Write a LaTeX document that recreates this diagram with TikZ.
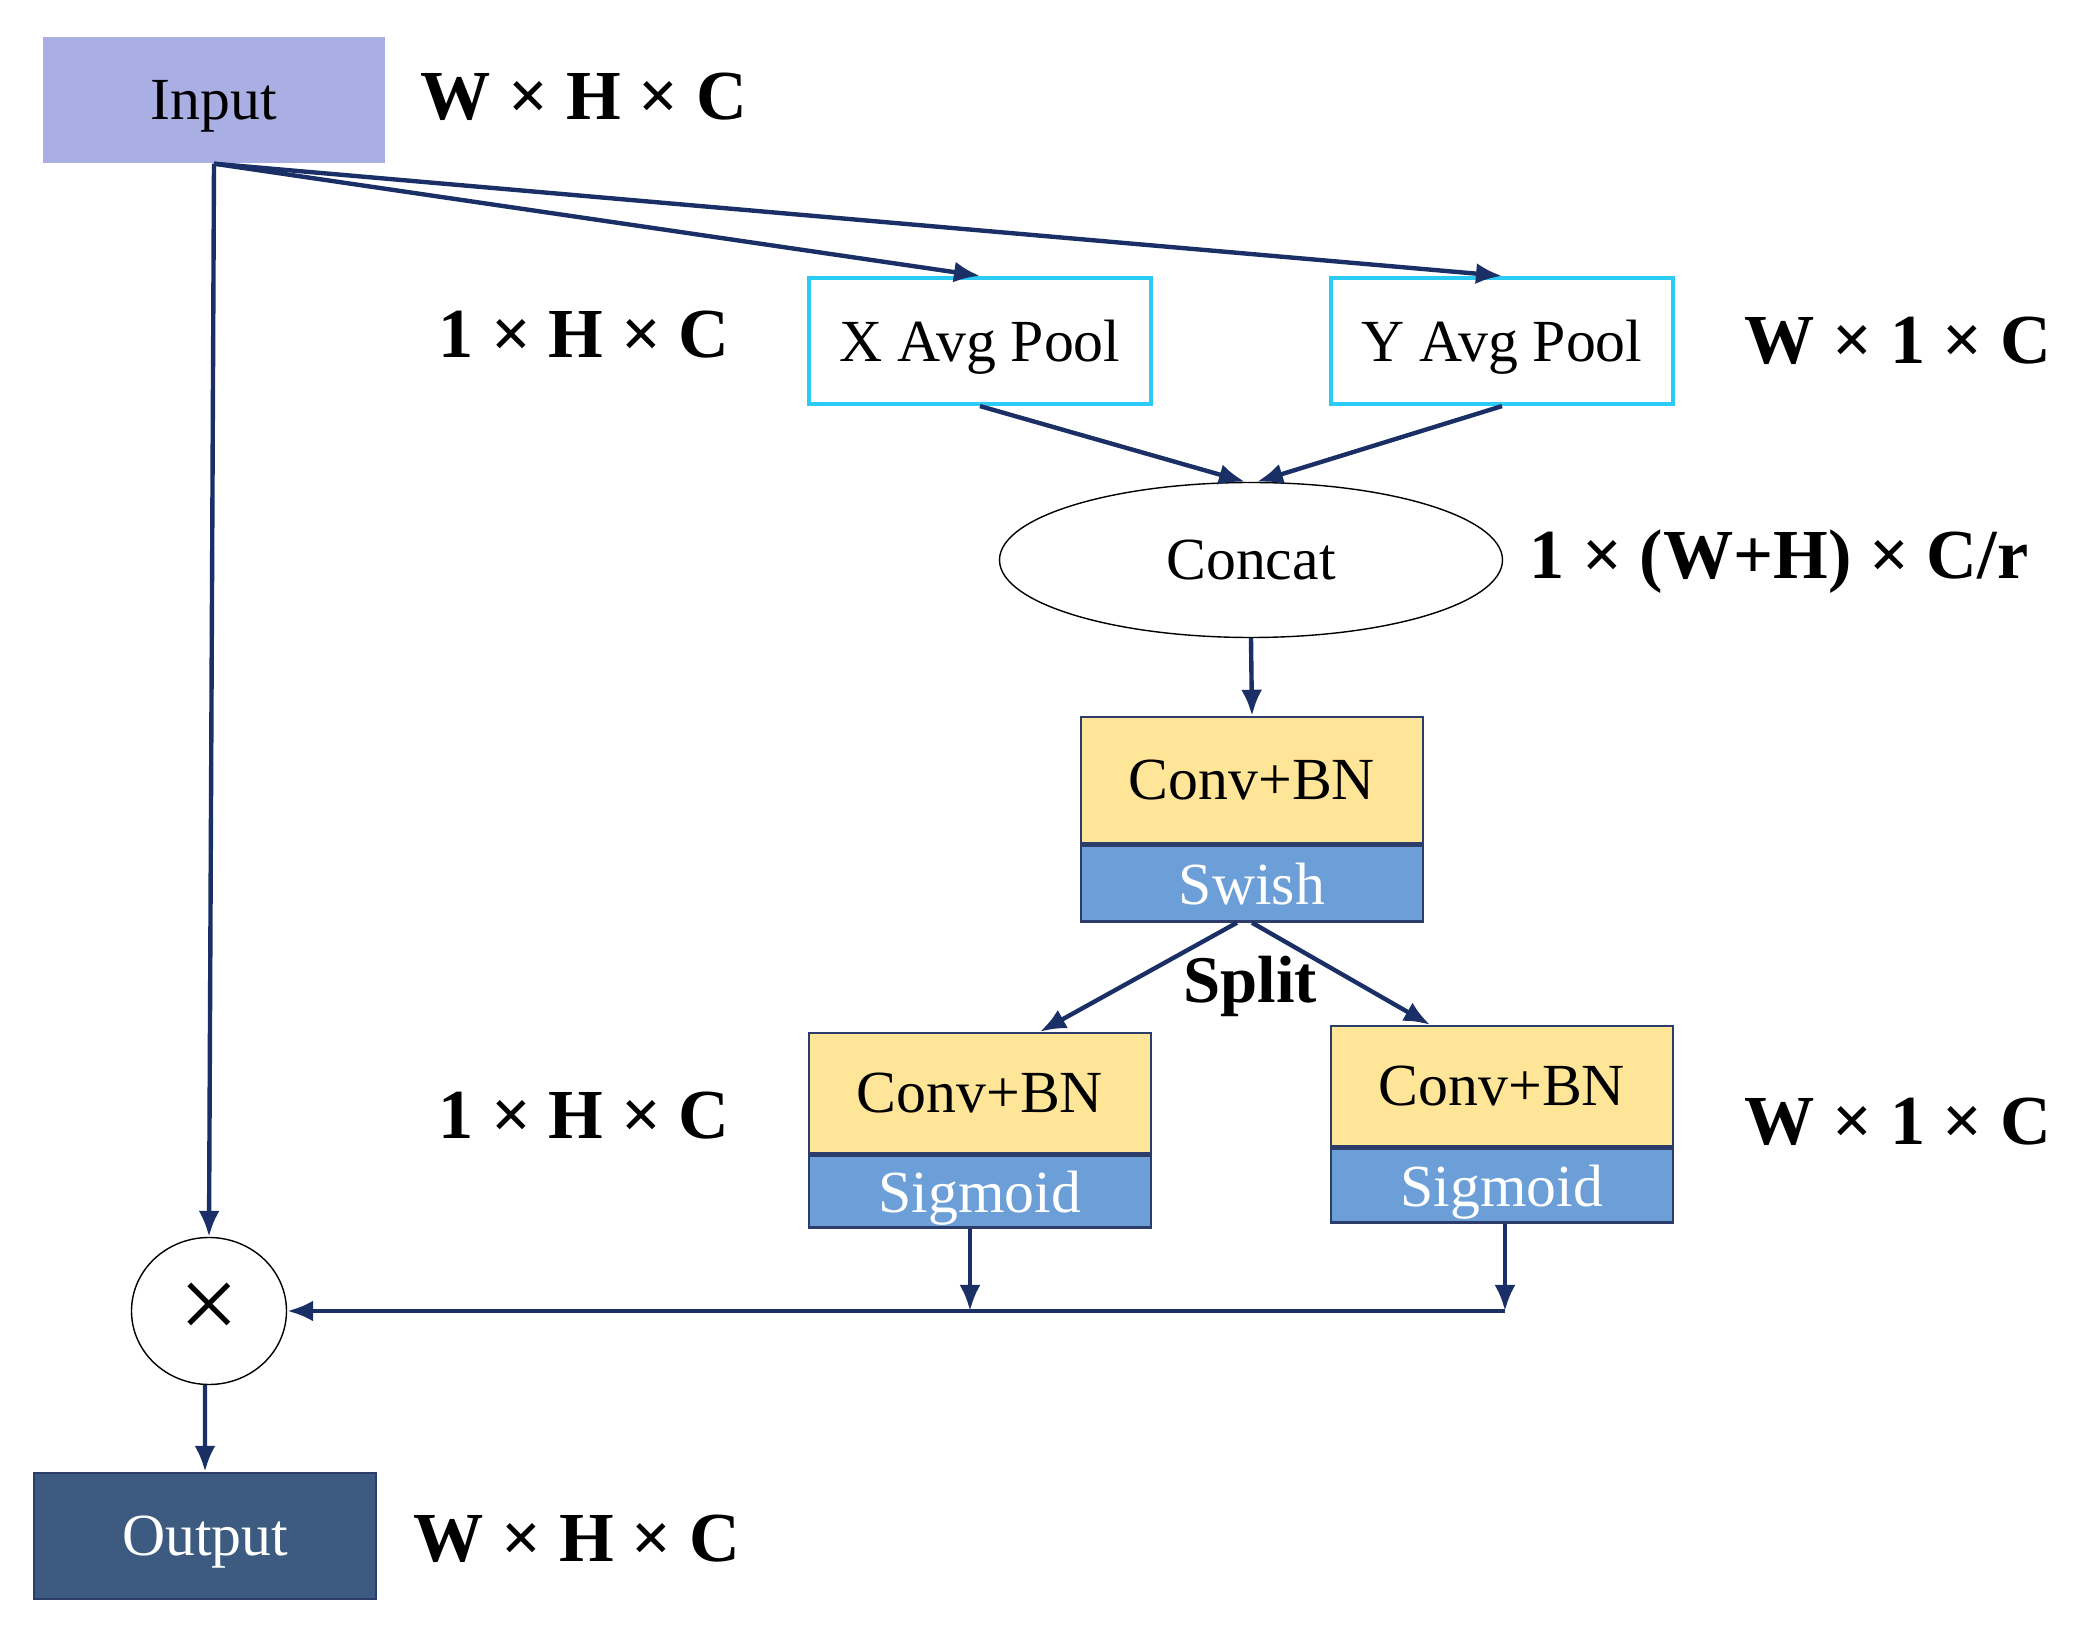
\documentclass[tikz,border=0pt]{standalone}
\usepackage{fontspec}
\setmainfont{Liberation Serif}
\usetikzlibrary{positioning,shapes.geometric,arrows.meta}
\definecolor{flowline}{HTML}{1A2F66}
\definecolor{inputfill}{HTML}{A9AEE3}
\definecolor{poolline}{HTML}{2CCBF6}
\definecolor{convfill}{HTML}{FFE598}
\definecolor{actfill}{HTML}{6C9FD8}
\definecolor{boxline}{HTML}{2C3D6B}
\definecolor{outfill}{HTML}{3D5B80}
\tikzset{
  box/.style={minimum width=34.2mm, minimum height=12.6mm, inner sep=0pt,
              text depth=0pt, font=\fontsize{17}{20}\selectfont},
  inbox/.style={box, fill=inputfill},
  poolbox/.style={box, draw=poolline, line width=1.2pt},
  convbox/.style={box, fill=convfill, draw=boxline, line width=0.7pt},
  actbox/.style={box, fill=actfill, draw=boxline, line width=0.7pt,
                 text=white, minimum height=7.6mm},
  outbox/.style={box, fill=outfill, draw=boxline, line width=0.7pt, text=white},
  dimlabel/.style={font=\fontsize{20}{24}\selectfont\bfseries, inner sep=0pt},
  flow/.style={->, draw=flowline, line width=1.25pt},
}

\begin{document}
\begin{tikzpicture}[x=0.1mm, y=-0.1mm, >={Latex[length=2.6mm,width=2.1mm]}]
    \useasboundingbox (0,0) rectangle (2075,1633);
    % top row
    \node[inbox] (inp) at (214,100) {Input};
    \node[dimlabel] (dimin) at (584,97) {W × H × C};
    \node[poolbox] (xp) at (980,341) {X Avg Pool};
    \node[poolbox] (yp) at (1502,341) {Y Avg Pool};
    \node[dimlabel] (dimxp) at (584,335) {1 × H × C};
    \node[dimlabel] (dimyp) at (1898,341) {W × 1 × C};
    % concat and shared conv
    \node[ellipse, draw, thin, minimum width=50.3mm, minimum height=15.5mm,
          font=\fontsize{17}{20}\selectfont] (cat) at (1251,560) {Concat};
    \node[dimlabel] (dimcat) at (1779,562) {1 × (W+H) × C/r};
    \node[convbox] (conva) at (1252,780) {Conv+BN};
    \node[actbox, below=0pt of conva] (acta) {Swish};
    \node[dimlabel, font=\fontsize{19}{22}\selectfont\bfseries] (split) at (1250,986) {Split};
    % the two branches
    \node[convbox, minimum height=12mm] (convx) at (980,1093) {Conv+BN};
    \node[actbox, below=0pt of convx, minimum height=7.2mm] (sigx) {Sigmoid};
    \node[convbox, minimum height=12mm] (convy) at (1502,1086) {Conv+BN};
    \node[actbox, below=0pt of convy, minimum height=7.4mm] (sigy) {Sigmoid};
    \node[dimlabel] (dimcx) at (584,1116) {1 × H × C};
    \node[dimlabel] (dimcy) at (1898,1122) {W × 1 × C};
    % multiply and output
    \node[ellipse, draw, thin, minimum width=15.5mm, minimum height=14.7mm,
          inner sep=0pt, font=\fontsize{30}{34}\selectfont] (mul) at (209,1311) {×};
    \node[outbox] (out) at (205,1536) {Output};
    \node[dimlabel] (dimout) at (577,1539) {W × H × C};

    \draw[flow] (inp.south) -- (xp.north);
    \draw[flow] (inp.south) -- (yp.north);
    \draw[flow] (inp.south) -- (mul.north);
    \draw[flow] (xp.south) -- ([xshift=-0.6mm]cat.north);
    \draw[flow] (yp.south) -- ([xshift=0.6mm]cat.north);
    \draw[flow] (cat.south) -- (conva.north);
    \draw[flow] ([xshift=-1.5mm]acta.south) -- ([xshift=6mm]convx.north);
    \draw[flow] (acta.south) -- ([xshift=-7.2mm]convy.north);
    \coordinate (jx) at ([xshift=-1mm]sigx.south |- mul.east);
    \coordinate (jy) at ([xshift=0.3mm]sigy.south |- mul.east);
    \draw[flow] ([xshift=-1mm]sigx.south) -- (jx);
    \draw[flow] ([xshift=0.3mm]sigy.south) -- (jy);
    \draw[flow] (jy) -- (mul.east);
    \draw[flow] ([xshift=-0.4mm]mul.south) -- (out.north);
  \end{tikzpicture}
\end{document}
